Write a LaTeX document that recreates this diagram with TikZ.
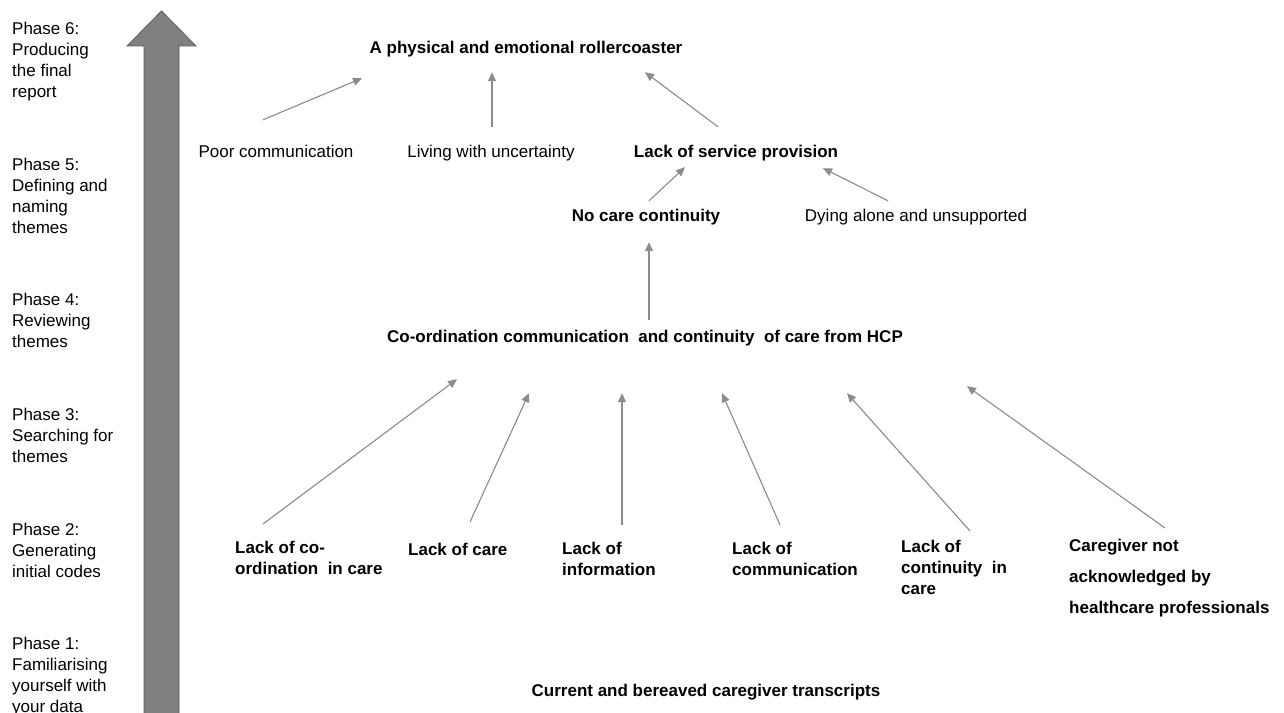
\documentclass[tikz,border=0pt]{standalone}
\usepackage{fontspec}
\setmainfont{Liberation Sans}
\usetikzlibrary{calc,arrows.meta}
\definecolor{linegray}{HTML}{8C8C8C}
\definecolor{barfill}{HTML}{808080}
\definecolor{baredge}{HTML}{5A5A5A}

\begin{document}
\begin{tikzpicture}[x=1pt,y=1pt,
  phase/.style={anchor=north west,inner sep=0,align=left,font=\fontsize{17}{21}\selectfont},
  theme/.style={anchor=base,inner sep=0,text height=12pt,text depth=4pt,font=\fontsize{17}{21}\selectfont},
  key/.style={theme,font=\fontsize{17}{21}\selectfont\bfseries},
  code/.style={phase,font=\fontsize{17}{21}\selectfont\bfseries},
  arrow/.style={-{Triangle[length=9pt,width=8pt]},draw=linegray,fill=linegray,line width=1.1pt}]
  \useasboundingbox (0,0) rectangle (1284,712);

  % phases and the big arrow
  \fill[barfill,draw=baredge,line width=.8pt] (144,-5) -- (144,666) -- (127,666) -- (161.5,701)
    -- (196,666) -- (179,666) -- (179,-5) -- cycle;
  \node[phase] (p6) at (12,690) {Phase 6:\\Producing\\the final\\report};
  \node[phase] (p5) at (12,554) {Phase 5:\\Defining and\\naming\\themes};
  \node[phase] (p4) at (12,419) {Phase 4:\\Reviewing\\themes};
  \node[phase] (p3) at (12,304) {Phase 3:\\Searching for\\themes};
  \node[phase] (p2) at (12,189) {Phase 2:\\Generating\\initial codes};
  \node[phase] (p1) at (12,75) {Phase 1:\\Familiarising\\yourself with\\your data};

  % themes
  \node[key] (roll) at (526,658) {A physical and emotional rollercoaster};
  \node[theme] (poor) at (276,554) {Poor communication};
  \node[theme] (living) at (491,554) {Living with uncertainty};
  \node[key] (service) at (736,554) {Lack of service provision};
  \node[key] (nocare) at (646,490) {No care continuity};
  \node[theme] (dying) at (916,490) {Dying alone and unsupported};
  \node[key] (coord) at (645,369) {Co-ordination communication\ \ and continuity\ \ of care from HCP};

  % codes
  \node[code] (lackcoord) at (235,171) {Lack of co-\\ordination\ \ in care};
  \node[code] (lackcare) at (408,169) {Lack of care};
  \node[code] (lackinfo) at (562,170) {Lack of\\information};
  \node[code] (lackcomm) at (732,170) {Lack of\\communication};
  \node[code] (lackcont) at (901,172) {Lack of\\continuity\ \ in\\care};
  \node[code,font=\fontsize{17}{31}\selectfont\bfseries] (notack) at (1069,173) {Caregiver not\\acknowledged by\\healthcare professionals};

  \node[key] (trans) at (706,16) {Current and bereaved caregiver transcripts};

  \draw[arrow] ($ (poor.north) + (-13,26) $) -- ($ (roll.south) + (-164,-20) $);
  \draw[arrow] ($ (living.north) + (1,19) $) -- ($ (roll.south) + (-34,-14) $);
  \draw[arrow] ($ (service.north) + (-18,19) $) -- ($ (roll.south) + (119,-14) $);
  \draw[arrow] ($ (nocare.north) + (3,9) $) -- ($ (service.south) + (-51,-5) $);
  \draw[arrow] ($ (dying.north) + (-28,9) $) -- ($ (service.south) + (87,-6) $);
  \draw[arrow] ($ (coord.north) + (4,11) $) -- ($ (nocare.south) + (3,-16) $);

  \draw[arrow] ($ (lackcoord.north west) + (28,17) $) -- ($ (coord.south) + (-188,-32) $);
  \draw[arrow] ($ (lackcare.north west) + (62,21) $) -- ($ (coord.south) + (-116,-46) $);
  \draw[arrow] ($ (lackinfo.north west) + (60,17) $) -- ($ (coord.south) + (-23,-46) $);
  \draw[arrow] ($ (lackcomm.north west) + (48,17) $) -- ($ (coord.south) + (77,-46) $);
  \draw[arrow] ($ (lackcont.north west) + (69,9) $) -- ($ (coord.south) + (202,-46) $);
  \draw[arrow] ($ (notack.north west) + (96,11) $) -- ($ (coord.south) + (322,-39) $);
\end{tikzpicture}
\end{document}
